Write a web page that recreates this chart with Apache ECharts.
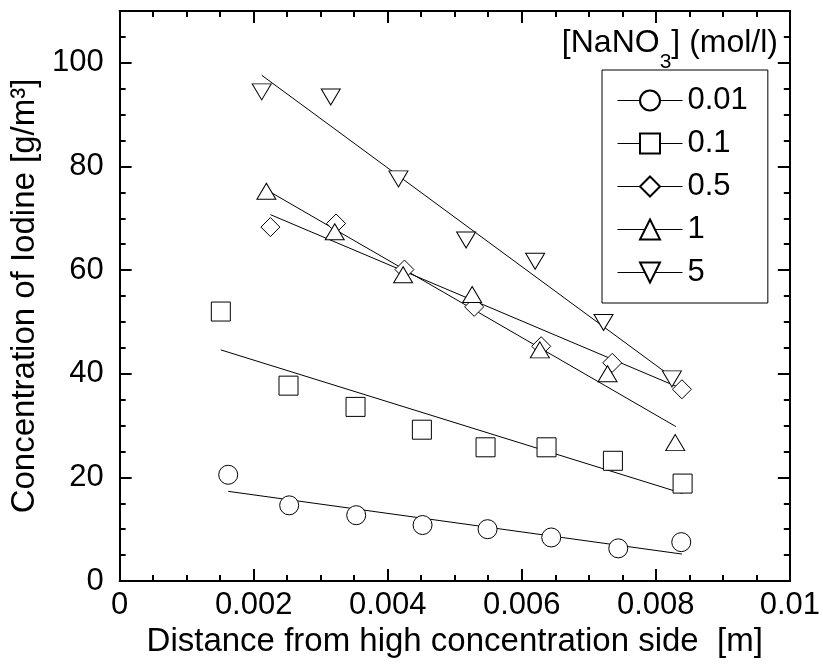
<!DOCTYPE html>
<html>
<head>
<meta charset="utf-8">
<script src="https://cdn.jsdelivr.net/npm/echarts@6/dist/echarts.min.js"></script>
<style>
html, body { margin: 0; padding: 0; background: #fff; }
#chart { width: 823px; height: 665px; }
</style>
</head>
<body>
<div id="chart"></div>
<script>
var FONT = '"Liberation Sans", Arial, sans-serif';

// NaNO3 concentrations (legend)
var groups = ['0.01', '0.1', '0.5', '1', '5'];

// measured points, distance [m] / iodine [g/m3]
var x001 = [0.00162, 0.00253, 0.00353, 0.00452, 0.00549, 0.00644, 0.00744, 0.00838];
var y001 = [20.5, 14.6, 12.7, 10.8, 10.0, 8.4, 6.3, 7.5];
var x01 = [0.00151, 0.00252, 0.00352, 0.00451, 0.00546, 0.00637, 0.00736, 0.00840];
var y01 = [52.0, 37.7, 33.6, 29.2, 25.8, 25.8, 23.2, 18.8];
var x05 = [0.00225, 0.00323, 0.00425, 0.00529, 0.00629, 0.00735, 0.00839];
var y05 = [68.3, 69.0, 60.1, 52.9, 45.3, 42.1, 37.0];
var x1 = [0.00219, 0.00321, 0.00423, 0.00526, 0.00627, 0.00728, 0.00829];
var y1 = [75.2, 67.4, 59.1, 55.3, 44.6, 40.0, 26.7];
var x5 = [0.00212, 0.00315, 0.00416, 0.00517, 0.00620, 0.00722, 0.00824];
var y5 = [94.4, 93.4, 77.6, 65.8, 61.7, 49.9, 39.0];

// fitted straight lines (end points)
var fit001X = [0.00162, 0.00839], fit001Y = [17.3, 5.2];
var fit01X = [0.00151, 0.00840], fit01Y = [44.6, 16.9];
var fit05X = [0.00225, 0.00839], fit05Y = [70.7, 37.1];
var fit1X = [0.00227, 0.00830], fit1Y = [74.9, 29.8];
var fit5X = [0.00212, 0.00830], fit5Y = [97.6, 38.8];

var xTicks = [0, 0.002, 0.004, 0.006, 0.008, 0.01];
var yTicks = [0, 20, 40, 60, 80, 100];

function pairs(xs, ys) {
    return xs.map(function (x, i) { return [x, ys[i]]; });
}

var chart = echarts.init(document.getElementById('chart'));

var markers = [
    {name: '0.01', xs: x001, ys: y001, symbol: 'circle', size: 19, rot: 0},
    {name: '0.1', xs: x01, ys: y01, symbol: 'rect', size: 19, rot: 0},
    {name: '0.5', xs: x05, ys: y05, symbol: 'diamond', size: 19, rot: 0},
    {name: '1', xs: x1, ys: y1, symbol: 'triangle', size: [19, 16], rot: 0},
    {name: '5', xs: x5, ys: y5, symbol: 'triangle', size: [19, 16], rot: 180}
];
var fits = [
    [fit001X, fit001Y], [fit01X, fit01Y], [fit05X, fit05Y], [fit1X, fit1Y], [fit5X, fit5Y]
];

var series = [];
fits.forEach(function (f) {
    series.push({
        type: 'line',
        data: pairs(f[0], f[1]),
        symbol: 'none',
        lineStyle: {color: '#000', width: 1},
        z: 2,
        silent: true
    });
});
markers.forEach(function (m) {
    series.push({
        type: 'line',
        name: m.name,
        data: pairs(m.xs, m.ys),
        symbol: m.symbol,
        symbolSize: m.size,
        symbolRotate: m.rot,
        showSymbol: true,
        itemStyle: {color: '#fff', borderColor: '#000', borderWidth: 1},
        lineStyle: {opacity: 0, color: '#000'},
        z: 3,
        silent: true
    });
});

function valueAxis(pos, interval, tickLen, max) {
    return {
        type: 'value',
        position: pos,
        min: 0,
        max: max,
        interval: interval,
        axisLine: {show: true, onZero: false, lineStyle: {color: '#000', width: 2}},
        axisTick: {show: true, inside: true, length: tickLen, lineStyle: {color: '#000', width: 2}},
        splitLine: {show: false},
        axisLabel: {show: false}
    };
}

var xMain = valueAxis('bottom', 0.002, 12, 0.01);
xMain.minorTick = {show: true, splitNumber: 4, length: 6, lineStyle: {color: '#000', width: 2}};
xMain.axisLabel = {
    show: true, margin: 9, fontSize: 31, color: '#000', fontFamily: FONT,
    formatter: function (v) { return xTicks.indexOf(+v.toFixed(4)) >= 0 ? String(+v.toFixed(4)) : ''; }
};
xMain.name = 'Distance from high concentration side  [m]';
xMain.nameLocation = 'middle';
xMain.nameGap = 43;
xMain.nameTextStyle = {fontSize: 33, color: '#000', fontFamily: FONT};

var xTop = valueAxis('top', 0.002, 12, 0.01);
xTop.minorTick = {show: true, splitNumber: 4, length: 6, lineStyle: {color: '#000', width: 2}};

var yMain = valueAxis('left', 20, 12, 110);
yMain.axisLabel = {
    show: true, margin: 16, fontSize: 31, color: '#000', fontFamily: FONT,
    formatter: function (v) { return yTicks.indexOf(v) >= 0 ? String(v) : ''; }
};
yMain.name = 'Concentration of Iodine [g/m\u00B3]';
yMain.nameLocation = 'middle';
yMain.nameGap = 71;
yMain.nameTextStyle = {fontSize: 33, color: '#000', fontFamily: FONT};

var yMinorL = valueAxis('left', 5, 6, 110);
var yRight = valueAxis('right', 20, 12, 110);
var yMinorR = valueAxis('right', 5, 6, 110);

chart.setOption({
    animation: false,
    backgroundColor: '#fff',
    grid: {left: 117, right: 32, top: 11, bottom: 84, containLabel: false},
    title: {
        text: '{a|[NaNO}{s|3}{a|] (mol/l)}',
        right: 45,
        top: 27,
        padding: 0,
        textStyle: {
            fontWeight: 'normal',
            rich: {
                a: {fontSize: 32, lineHeight: 32, fontWeight: 'normal', color: '#000', fontFamily: FONT, verticalAlign: 'top'},
                s: {fontSize: 21, lineHeight: 46, fontWeight: 'normal', color: '#000', fontFamily: FONT, verticalAlign: 'bottom'}
            }
        }
    },
    legend: {
        data: groups,
        orient: 'vertical',
        left: 602,
        top: 70,
        padding: [15, 20, 15, 15],
        itemWidth: 65,
        itemHeight: 25,
        itemGap: 12,
        borderColor: '#000',
        borderWidth: 1,
        selectedMode: false,
        textStyle: {fontSize: 31, lineHeight: 31, color: '#000', fontFamily: FONT},
        lineStyle: {color: '#000', width: 1, opacity: 1}
    },
    xAxis: [xMain, xTop],
    yAxis: [yMain, yMinorL, yRight, yMinorR],
    series: series
});
</script>
</body>
</html>
